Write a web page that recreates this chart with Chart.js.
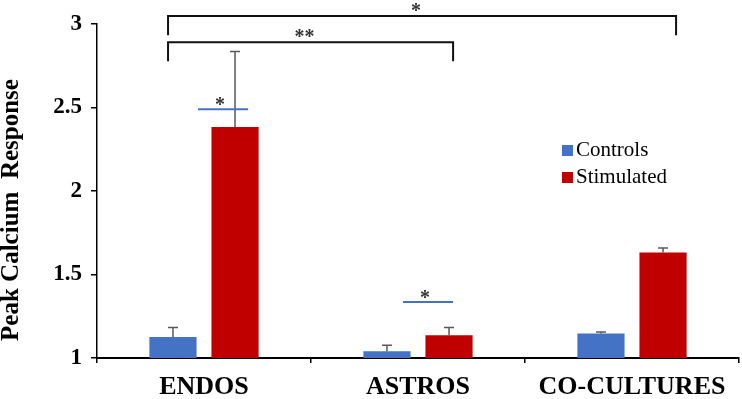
<!DOCTYPE html>
<html>
<head>
<meta charset="utf-8">
<script src="https://cdn.jsdelivr.net/npm/chart.js"></script>
<style>
  html, body { margin: 0; padding: 0; background: #fff; }
  #wrap { width: 742px; height: 399px; }
</style>
</head>
<body>
<div id="wrap"><canvas id="chart" width="742" height="399"></canvas></div>
<script>
const categories = ['ENDOS', 'ASTROS', 'CO-CULTURES'];
const controls = [1.126, 1.04, 1.146];
const controlsErr = [0.056, 0.036, 0.01];
const stimulated = [2.383, 1.136, 1.631];
const stimulatedErr = [0.453, 0.046, 0.028];
const yTicks = [1, 1.5, 2, 2.5, 3];
const yTickLabels = ['1', '1.5', '2', '2.5', '3'];

// significance brackets between groups (category index positions, y in data units)
const brackets = [
  { from: -0.168, to: 2.206, top: 3.048, foot: 2.932, label: '*' },
  { from: -0.168, to: 1.164, top: 2.89, foot: 2.777, label: '**' }
];
// short blue lines inside a group
const sigLines = [
  { from: -0.028, to: 0.206, y: 2.489, label: '*' },
  { from: 0.930, to: 1.164, y: 1.335, label: '*' }
];

const SERIF = '"Liberation Serif", "Times New Roman", serif';

// error bars (upper only) + significance marks + legend + y title
const extras = {
  id: 'extras',
  afterDatasetsDraw(chart) {
    const ctx = chart.ctx;
    const y = chart.scales.y;
    const errs = [controlsErr, stimulatedErr];
    ctx.save();
    ctx.strokeStyle = '#595959';
    ctx.lineWidth = 1.5;
    chart.data.datasets.forEach((ds, i) => {
      chart.getDatasetMeta(i).data.forEach((bar, j) => {
        const yTop = y.getPixelForValue(ds.data[j] + errs[i][j]);
        ctx.beginPath();
        ctx.moveTo(bar.x, bar.y);
        ctx.lineTo(bar.x, yTop);
        ctx.moveTo(bar.x - 5, yTop);
        ctx.lineTo(bar.x + 5, yTop);
        ctx.stroke();
      });
    });
    ctx.restore();
  },
  afterDraw(chart) {
    const ctx = chart.ctx;
    const x = chart.scales.x;
    const y = chart.scales.y;
    const area = chart.chartArea;
    const px = v => {
      const i = Math.floor(v + 0.5);
      const w = x.getPixelForValue(1) - x.getPixelForValue(0);
      return x.getPixelForValue(i) + (v - i) * w;
    };
    ctx.save();

    // brackets
    ctx.strokeStyle = '#111';
    ctx.lineWidth = 2;
    ctx.fillStyle = '#333';
    ctx.font = 'bold 20px ' + SERIF;
    ctx.textAlign = 'center';
    ctx.textBaseline = 'alphabetic';
    brackets.forEach(b => {
      const x1 = px(b.from), x2 = px(b.to);
      const yt = y.getPixelForValue(b.top), yf = y.getPixelForValue(b.foot);
      ctx.beginPath();
      ctx.moveTo(x1, yf);
      ctx.lineTo(x1, yt);
      ctx.lineTo(x2, yt);
      ctx.lineTo(x2, yf);
      ctx.stroke();
      ctx.fillText(b.label, (x1 + x2) / 2 - 6, yt + 1);
    });

    // blue significance lines
    ctx.strokeStyle = '#4472C4';
    ctx.lineWidth = 2;
    sigLines.forEach(s => {
      const x1 = px(s.from), x2 = px(s.to);
      const yy = y.getPixelForValue(s.y);
      ctx.beginPath();
      ctx.moveTo(x1, yy);
      ctx.lineTo(x2, yy);
      ctx.stroke();
      ctx.fillText(s.label, (x1 + x2) / 2 - 3, yy + 2);
    });

    // legend
    ctx.font = '21px ' + SERIF;
    ctx.textAlign = 'left';
    ctx.textBaseline = 'middle';
    chart.data.datasets.forEach((ds, i) => {
      const ly = 150 + i * 27;
      ctx.fillStyle = ds.backgroundColor;
      ctx.fillRect(area.right - 177, ly - 5, 11, 11);
      ctx.fillStyle = '#000';
      ctx.fillText(ds.label, area.right - 163, ly);
    });

    // y axis title
    ctx.translate(12, 210);
    ctx.rotate(-Math.PI / 2);
    ctx.textAlign = 'center';
    ctx.font = 'bold 25px ' + SERIF;
    ctx.fillText('Peak Calcium  Response', 0, 0);
    ctx.restore();
  }
};

new Chart(document.getElementById('chart'), {
  type: 'bar',
  data: {
    labels: categories,
    datasets: [
      { label: 'Controls', data: controls, backgroundColor: '#4472C4' },
      { label: 'Stimulated', data: stimulated, backgroundColor: '#C00000' }
    ]
  },
  options: {
    responsive: false,
    animation: false,
    categoryPercentage: 0.58,
    barPercentage: 0.76,
    layout: { padding: { top: 24, right: 3, left: 0, bottom: 0 } },
    plugins: { legend: { display: false }, tooltip: { enabled: false } },
    scales: {
      x: {
        afterFit: s => { s.height = 41; },
        grid: { drawOnChartArea: false, tickLength: 5, color: '#000', lineWidth: 1.5 },
        border: { color: '#000', width: 2 },
        ticks: { color: '#000', padding: 9, font: { family: SERIF, size: 26, weight: 'bold' } }
      },
      y: {
        min: 1,
        max: 3,
        afterFit: s => { s.width = 97; },
        afterBuildTicks: s => { s.ticks = yTicks.map(v => ({ value: v })); },
        grid: { drawOnChartArea: false, tickLength: 6, color: '#000', lineWidth: 1.5 },
        border: { color: '#000', width: 1.5 },
        ticks: {
          color: '#000',
          padding: 9,
          font: { family: SERIF, size: 23, weight: 'bold' },
          callback: (v, i) => yTickLabels[i]
        }
      }
    }
  },
  plugins: [extras]
});
</script>
</body>
</html>
